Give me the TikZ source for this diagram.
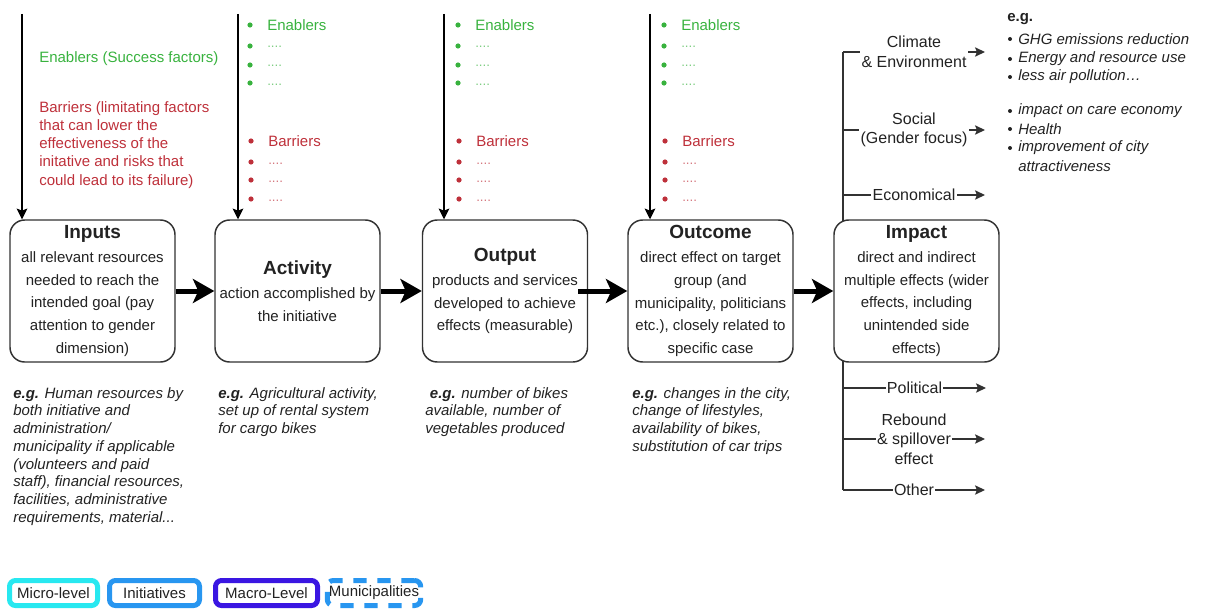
\documentclass[tikz,border=0pt]{standalone}
\usepackage{fontspec}
\setmainfont{Liberation Sans}
\usetikzlibrary{arrows.meta,calc}

\definecolor{enab}{RGB}{56,178,62}
\definecolor{barr}{RGB}{190,48,58}
\definecolor{ink}{RGB}{34,34,34}
\definecolor{boxline}{RGB}{50,50,50}
\definecolor{microc}{RGB}{40,232,240}
\definecolor{initc}{RGB}{40,150,240}
\definecolor{macroc}{RGB}{58,22,226}

\newcommand\bodyfont{\fontsize{11.25}{17}\selectfont}
\newcommand\titlefont{\fontsize{14.25}{18}\selectfont\bfseries}
\newcommand\notefont{\fontsize{11.25}{13.3}\selectfont\itshape}
\newcommand\sidefont{\fontsize{11.25}{13.7}\selectfont}
\newcommand\branchfont{\fontsize{12}{14.6}\selectfont}
\newcommand\dotfont{\fontsize{10}{11}\selectfont}

\begin{document}
\begin{tikzpicture}[x=0.75pt,y=-0.75pt,
  stage/.style={draw=boxline, line width=1.1pt, rounded corners=11pt, fill=white,
    minimum width=123.75pt, minimum height=106.5pt, align=center, text=ink,
    inner sep=1pt, font=\bodyfont},
  flow/.style={line width=3.75pt, -{Stealth[length=16pt,width=18pt,inset=4pt]}},
  feed/.style={line width=1.1pt, -{Stealth[length=8pt,width=8pt,inset=1.5pt]}},
  branch/.style={draw=boxline, line width=0.9pt, -{Stealth[length=7.5pt,width=7pt,inset=1.5pt]}},
  lbl/.style={fill=white, inner sep=1pt, align=center, text=ink, font=\branchfont},
  dotmark/.style={circle, fill=#1, inner sep=0pt, minimum size=3.9pt},
  listtxt/.style={anchor=west, inner sep=0pt, font=\sidefont},
  ellip/.style={anchor=base west, inner sep=0pt, font=\dotfont},
  note/.style={anchor=north west, inner sep=0pt, align=left, text=ink, font=\notefont},
  legend/.style={rounded corners=4.5pt, line width=3.75pt, fill=white, inner sep=0pt,
    minimum height=18.75pt, text=ink, font=\sidefont}
]
\useasboundingbox (0,0) rectangle (1209,610);

% spine of the impact branches (runs behind the Impact box)
\coordinate (sp1) at (843,52);  \coordinate (se1) at (985,52);
\coordinate (sp2) at (843,130); \coordinate (se2) at (985,130);
\coordinate (sp3) at (843,195); \coordinate (se3) at (985,195);
\coordinate (sp4) at (843,388); \coordinate (se4) at (986,388);
\coordinate (sp5) at (843,439); \coordinate (se5) at (985,439);
\coordinate (sp6) at (843,490); \coordinate (se6) at (985,490);
\draw[draw=boxline, line width=1.1pt] (sp1) -- (sp6);

% impact branches
\draw[branch] (sp1) -- (se1) node[lbl, midway] (clim) {Climate\\\& Environment};
\draw[branch] (sp2) -- (se2) node[lbl, midway] (soc) {Social\\(Gender focus)};
\draw[branch] (sp3) -- (se3) node[lbl, midway] (eco) {Economical};
\draw[branch] (sp4) -- (se4) node[lbl, midway] (pol) {Political};
\draw[branch] (sp5) -- (se5) node[lbl, midway] (reb) {Rebound\\\& spillover\\effect};
\draw[branch] (sp6) -- (se6) node[lbl, midway] (oth) {Other};

% the five stages
\node[stage] (inp) at (92.5,291) {{\titlefont Inputs}\\[1pt]
  all relevant resources\\ needed to reach the\\ intended goal (pay\\ attention to gender\\ dimension)};
\node[stage] (act) at (297.5,291) {{\titlefont Activity}\\[1pt]
  action accomplished by\\ the initiative};
\node[stage] (out) at (505,291) {{\titlefont Output}\\[1pt]
  products and services\\ developed to achieve\\ effects (measurable)};
\node[stage] (outc) at (710.5,291) {{\titlefont Outcome}\\[1pt]
  direct effect on target\\ group (and\\ municipality, politicians\\ etc.), closely related to\\ specific case};
\node[stage] (imp) at (916.5,291) {{\titlefont Impact}\\[1pt]
  direct and indirect\\ multiple effects (wider\\ effects, including\\ unintended side\\ effects)};

% chain of thick arrows
\draw[flow] (inp.east) -- (act.west);
\draw[flow] (act.east) -- (out.west);
\draw[flow] ($(out.east)+(-10,0)$) -- (outc.west);
\draw[flow] (outc.east) -- (imp.west);

% feeding arrows from above
\coordinate (fi) at (22,14);
\coordinate (fa) at (238,14);
\coordinate (fo) at (444,14);
\coordinate (fc) at (650,14);
\draw[feed] (fi) -- (fi |- inp.north);
\draw[feed] (fa) -- (fa |- act.north);
\draw[feed] (fo) -- (fo |- out.north);
\draw[feed] (fc) -- (fc |- outc.north);

% general enablers / barriers text
\node[listtxt, text=enab] (gen-en) at (39,59) {Enablers (Success factors)};
\node[note, font=\sidefont, text=barr] (gen-ba) at (39,101) {Barriers (limitating factors\\
  that can lower the\\ effectiveness of the\\ initative and risks that\\ could lead to its failure)};

% enabler and barrier lists per stage
\foreach \bx/\nm in {250/act,458/out,664/outc}{
  \node[dotmark=enab] (\nm-eb0) at (\bx,25) {};
  \node[listtxt, text=enab] (\nm-et0) at (\bx+17,25) {Enablers};
  \foreach \yy [count=\i] in {46,65,83}{
    \node[dotmark=enab] (\nm-eb\i) at (\bx,\yy) {};
    \node[ellip, text=enab!65!white] (\nm-ed\i) at (\bx+17,\yy+2) {....};
  }
  \node[dotmark=barr] (\nm-bb0) at (\bx+1,141) {};
  \node[listtxt, text=barr] (\nm-bt0) at (\bx+18,141) {Barriers};
  \foreach \yy [count=\i] in {162,180,199}{
    \node[dotmark=barr] (\nm-bb\i) at (\bx+1,\yy) {};
    \node[ellip, text=barr!65!white] (\nm-bd\i) at (\bx+18,\yy+2) {....};
  }
}

% examples under the stages
\node[note] (ex-inp) at (13,387) {\textbf{e.g.} Human resources by\\ both initiative and\\
  administration/\\ municipality if applicable\\ (volunteers and paid\\
  staff), financial resources,\\ facilities, administrative\\ requirements, material...};
\node[note] (ex-act) at (218,387) {\textbf{e.g.} Agricultural activity,\\ set up of rental system\\ for cargo bikes};
\node[note] (ex-out) at (425,387) {\hspace*{3.5pt}\textbf{e.g.} number of bikes\\ available, number of\\ vegetables produced};
\node[note] (ex-outc) at (632,387) {\textbf{e.g.} changes in the city,\\ change of lifestyles,\\ availability of bikes,\\ substitution of car trips};

% examples of impact
\node[listtxt, text=ink, font=\sidefont\bfseries] (eg) at (1007,19) {e.g.};
\foreach \yy/\tx [count=\i] in {39/{GHG emissions reduction}, 59/{Energy and resource use},
    77/{less air pollution\ldots}, 111/{impact on care economy}, 129/{Health},
    148/{improvement of city}}{
  \node[dotmark=ink, minimum size=3pt] (eg-b\i) at (1010,\yy) {};
  \node[listtxt, text=ink, font=\sidefont\itshape] (eg-t\i) at (1018,\yy) {\tx};
}
\node[listtxt, text=ink, font=\sidefont\itshape] (eg-t7) at (1018,166) {attractiveness};

% legend
\node[legend, draw=microc, minimum width=66pt] (lg-micro) at (53.5,593) {Micro-level};
\node[legend, draw=initc, minimum width=67.5pt] (lg-init) at (154.5,593) {Initiatives};
\node[legend, draw=macroc, minimum width=76.5pt] (lg-macro) at (266.5,593) {Macro-Level};
\node[legend, draw=initc, dash pattern=on 10pt off 8pt, fill=none, minimum width=70pt] (lg-muni) at (374,593) {Municipalities};
\end{tikzpicture}
\end{document}
